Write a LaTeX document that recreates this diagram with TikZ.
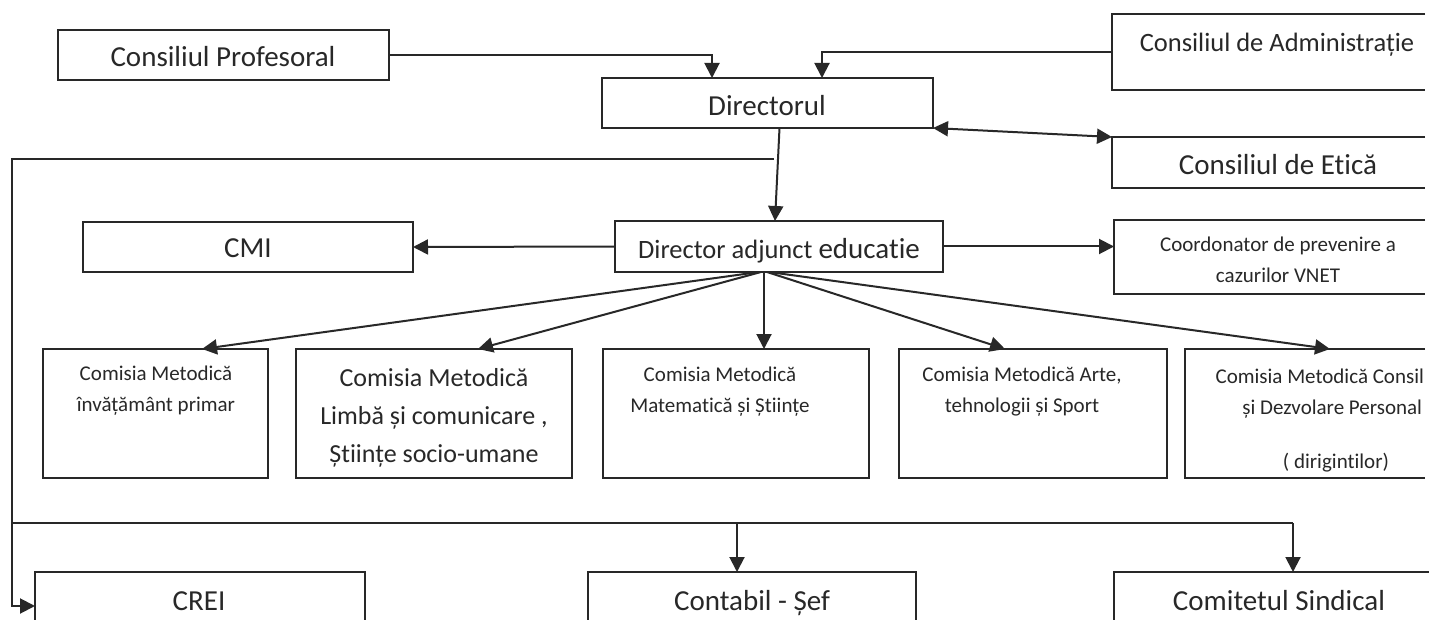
\documentclass[tikz,border=0pt]{standalone}
\usepackage{fontspec}
\setmainfont{Carlito}[Ligatures={NoCommon}]
\usetikzlibrary{arrows.meta,calc}
\definecolor{ink}{RGB}{40,40,40}
\newcommand\szA{\fontsize{29}{34}\selectfont}
\newcommand\szB{\fontsize{26.5}{32}\selectfont}
\newcommand\szC{\fontsize{26}{38}\selectfont}
\newcommand\szD{\fontsize{21}{31}\selectfont}
\begin{document}
\begin{tikzpicture}[x=1pt,y=-1pt,line width=2pt,color=ink,
  box/.style={draw,rectangle,inner sep=0pt,outer sep=0pt},
  ghost/.style={rectangle,inner sep=0pt,outer sep=0pt},
  lbl/.style={inner sep=0pt,align=center},
  bl/.style={inner sep=0pt,anchor=base},
  arr/.style={-{Triangle[length=15pt,width=15pt]}},
  darr/.style={{Triangle[length=15pt,width=15pt]}-{Triangle[length=15pt,width=15pt]}}]
\useasboundingbox (0,0) rectangle (1429,620);
\fill[white] (0,0) rectangle (1429,620);
\clip (0,0) rectangle (1429,620);

% closed boxes
\node[box,minimum width=331,minimum height=50] (cp) at (223.5,55) {};
\node[box,minimum width=331,minimum height=50] (dir) at (767.5,103) {};
\node[box,minimum width=328,minimum height=51] (adj) at (779,246.5) {};
\node[box,minimum width=330,minimum height=50] (cmi) at (248,247) {};
\node[box,minimum width=225,minimum height=129] (c1) at (155.5,413.5) {};
\node[box,minimum width=276,minimum height=129] (c2) at (434,413.5) {};
\node[box,minimum width=266,minimum height=129] (c3) at (736,413.5) {};
\node[box,minimum width=268,minimum height=129] (c4) at (1033,413.5) {};

% open boxes (cut by the picture edge)
\node[ghost,minimum width=313,minimum height=76] (ca) at (1268.5,52) {};
\draw (ca.north east) -- (ca.north west) -- (ca.south west) -- (ca.south east);
\node[ghost,minimum width=313,minimum height=51] (et) at (1268.5,162.5) {};
\draw (et.north east) -- (et.north west) -- (et.south west) -- (et.south east);
\node[ghost,minimum width=311,minimum height=74] (co) at (1269.5,257) {};
\draw (co.north east) -- (co.north west) -- (co.south west) -- (co.south east);
\node[ghost,minimum width=240,minimum height=129] (c5) at (1305,413.5) {};
\draw (c5.north east) -- (c5.north west) -- (c5.south west) -- (c5.south east);
\node[ghost,minimum width=330,minimum height=68] (crei) at (200,606) {};
\draw (crei.south west) -- (crei.north west) -- (crei.north east) -- (crei.south east);
\node[ghost,minimum width=328,minimum height=68] (cont) at (752,606) {};
\draw (cont.south west) -- (cont.north west) -- (cont.north east) -- (cont.south east);
\node[ghost,minimum width=326,minimum height=68] (com) at (1277,606) {};
\draw (com.south west) -- (com.north west) -- (com.north east);

% texts
\node[bl,font=\szA] at (223,67) {Consiliul Profesoral};
\node[bl,font=\szA] at (767,116) {Directorul};
\node[bl,font=\szB] at (1277,52) {Consiliul de Administrație};
\node[bl,font=\szA] at (1278,175) {Consiliul de Etică};
\node[bl] at (779,259) {{\szB Director adjunct }{\szA educatie}};
\node[bl,font=\szA] at (248,258) {CMI};
\node[lbl,font=\szD] at (1278,260) {Coordonator de prevenire a\\cazurilor VNET};
\node[lbl,font=\szD] at (156,391) {Comisia Metodică\\învățământ primar};
\node[lbl,font=\szC] at (434,418) {Comisia Metodică\\Limbă și comunicare ,\\Științe socio-umane};
\node[lbl,font=\szD] at (720,392) {Comisia Metodică\\Matematică și Științe};
\node[lbl,font=\szD] at (1022,392) {Comisia Metodică Arte,\\tehnologii și Sport};
\node[bl,font=\szD,anchor=base east] at (1425,383) {Comisia Metodică Consil};
\node[bl,font=\szD,anchor=base east] at (1423,414) {și Dezvolare Personal};
\node[bl,font=\szD] at (1336,468) {( dirigintilor)};
\node[bl,font=\szA] at (199,610) {CREI};
\node[bl,font=\szA] at (752,610) {Contabil - Șef};
\node[bl,font=\szA] at (1279,610) {Comitetul Sindical};

% connectors
\draw[arr] (cp.east) -| ([xshift=-55.5pt]dir.north);
\draw[arr] (ca.west) -| ([xshift=54.5pt]dir.north);
\draw[darr] (dir.south east) -- (et.north west);
\draw[arr] ([xshift=12pt]dir.south) -- ([xshift=-4pt]adj.north);
\coordinate (tap) at (774,159);
\draw[arr] (tap) -- (12,159) |- (crei.west);
\coordinate (bus1) at (12,523);
\coordinate (bus2) at (1293,523);
\coordinate (bus3) at (737,523);
\draw (bus1) -- (bus2);
\draw[arr] (bus3) -- (bus3 |- cont.north);
\draw[arr] (bus2) -- (bus2 |- com.north);
\draw[arr] (adj.west) -- (cmi.east);
\draw[arr] (adj.east) -- (adj.east -| co.west);
\draw[arr] ([xshift=-20pt]adj.south) -- ([xshift=46.5pt]c1.north);
\draw[arr] ([xshift=-18pt]adj.south) -- ([xshift=44pt]c2.north);
\draw[arr] ([xshift=-15pt]adj.south) -- ([xshift=28pt]c3.north);
\draw[arr] ([xshift=-12pt]adj.south) -- ([xshift=-28pt]c4.north);
\draw[arr] ([xshift=-10pt]adj.south) -- ([xshift=25pt]c5.north);
\end{tikzpicture}
\end{document}
